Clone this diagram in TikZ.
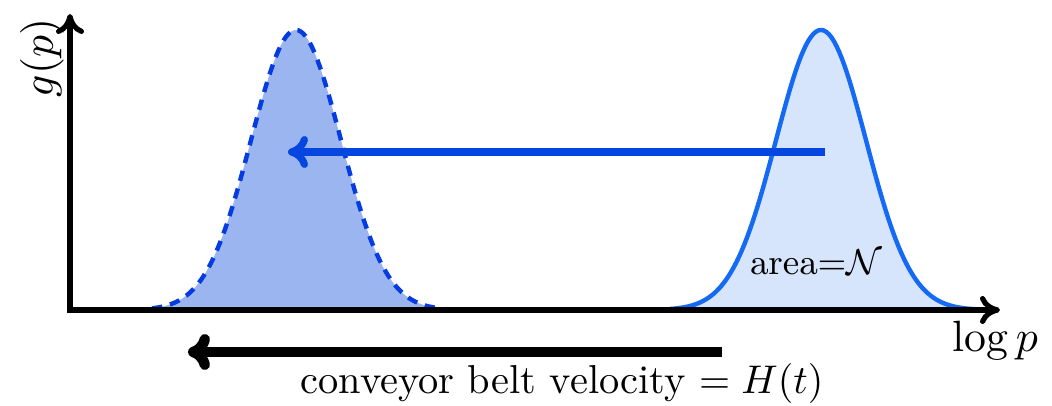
\documentclass[tikz,border=0pt]{standalone}
\usetikzlibrary{arrows.meta}
\definecolor{darkfill}{RGB}{155,181,240}
\definecolor{lightfill}{RGB}{215,229,252}
\definecolor{dashblue}{RGB}{5,60,225}
\definecolor{lineblue}{RGB}{20,105,245}
\definecolor{arrowblue}{RGB}{5,70,225}
\tikzset{
  axis/.style={line width=1.3pt,-{Computer Modern Rightarrow[length=5pt,width=7pt]}},
  lbl/.style={inner sep=0pt},
}
\begin{document}
\begin{tikzpicture}[x=0.25pt,y=-0.25pt]
\useasboundingbox (0,0) rectangle (1052,406);
% left gaussian (filled, dashed)
\fill[darkfill] plot[domain=152:442,samples=120] (\x,{310-280*exp(-0.5*((\x-296)/45)^2)}) -- cycle;
\draw[dashblue,line width=1.1pt,dash pattern=on 2.6pt off 2pt] plot[domain=152:442,samples=120] (\x,{310-280*exp(-0.5*((\x-296)/45)^2)});
% right gaussian
\fill[lightfill] plot[domain=670:975,samples=120] (\x,{310-280*exp(-0.5*((\x-821)/45)^2)}) -- cycle;
\draw[lineblue,line width=1.1pt] plot[domain=670:975,samples=120] (\x,{310-280*exp(-0.5*((\x-821)/45)^2)});
% axes
\coordinate (O) at (70,310);
\coordinate (ytop) at (70,14);
\coordinate (xend) at (1000,310);
\draw[axis] (O) -- (ytop);
\draw[axis] ([xshift=-0.65pt]O) -- (xend);
% blue arrow
\coordinate (bstart) at (825,152);
\coordinate (bend) at (288,152);
\draw[arrowblue,line width=1.8pt,-{Computer Modern Rightarrow[length=5pt,width=8pt]}] (bstart) -- (bend);
% black arrow
\coordinate (kstart) at (722,352);
\coordinate (kend) at (188,352);
\draw[black,line width=2.6pt,-{Computer Modern Rightarrow[length=5.5pt,width=9pt]}] (kstart) -- (kend);
% labels
\node[lbl,rotate=90] (gp) at (42,58) {\fontsize{11}{13}\selectfont $g(p)$};
\node[lbl] (logp) at (995,341) {\fontsize{11}{13}\selectfont $\log p$};
\node[lbl] (area) at (816,262) {\fontsize{9}{11}\selectfont $\mathrm{area}{=}\mathcal{N}$};
\node[lbl] (belt) at (562,384) {\fontsize{10.1}{12}\selectfont conveyor belt velocity $= H(t)$};
\end{tikzpicture}
\end{document}
